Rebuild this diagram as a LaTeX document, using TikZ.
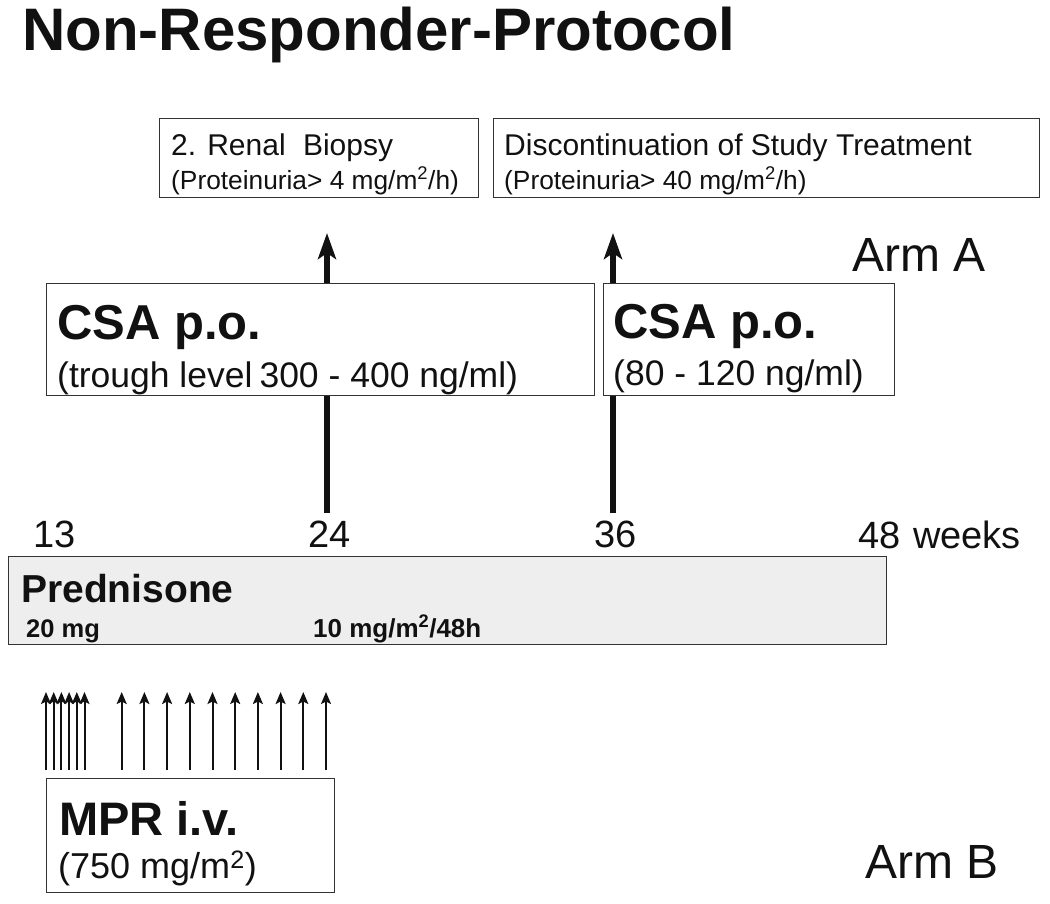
\documentclass[tikz,border=0pt]{standalone}
\usepackage{fontspec}
\setmainfont{Liberation Sans}
\usetikzlibrary{arrows.meta}
\definecolor{ink}{HTML}{111111}
\definecolor{boxgray}{HTML}{333333}
\definecolor{predfill}{HTML}{EEEEEE}
\newcommand\fsz[1]{\fontsize{#1}{#1}\selectfont}
\tikzset{
  box/.style={draw=boxgray, line width=1.4pt, fill=white, inner sep=0pt, anchor=north west},
  lbl/.style={anchor=base west, inner sep=0pt, text=ink},
  bigarrow/.style={draw=ink, line width=6pt, -{Stealth[length=26pt,width=18pt,inset=6pt]}},
  smallarrow/.style={draw=ink, line width=2pt, -{Stealth[length=12pt,width=10pt,inset=2.5pt]}},
}
\begin{document}
\begin{tikzpicture}[x=1pt,y=-1pt]
\useasboundingbox (0,0) rectangle (1050,903);
% title
\node[lbl, font=\fsz{60}\bfseries] (title) at (22,50) {Non-Responder-Protocol};
% top boxes
\node[box, minimum width=319pt, minimum height=79pt] (biopsy) at (159,118) {};
\node[lbl, font=\fsz{30}] (biopsyA) at (171,155) {2. Renal\hspace{0.3em} Biopsy};
\node[lbl, font=\fsz{26.3}] (biopsyB) at (171,189) {(Proteinuria> 4 mg/m\textsuperscript{2}/h)};
\node[box, minimum width=546pt, minimum height=79pt] (disc) at (493,118) {};
\node[lbl, font=\fsz{30}] (discA) at (504,155) {Discontinuation of Study Treatment};
\node[lbl, font=\fsz{26.3}] (discB) at (504,189) {(Proteinuria> 40 mg/m\textsuperscript{2}/h)};
% thick arrows
\coordinate (a24s) at (327,513);
\coordinate (a24e) at (327,233);
\coordinate (a36s) at (613,513);
\coordinate (a36e) at (613,233);
\draw[bigarrow] (a24s) -- (a24e);
\draw[bigarrow] (a36s) -- (a36e);
% arm A
\node[lbl, font=\fsz{48}] (armA) at (852,271) {Arm A};
% CSA boxes
\node[box, minimum width=548pt, minimum height=112pt] (csa1) at (46,283) {};
\node[lbl, font=\fsz{49}\bfseries] (csa1A) at (57,339) {CSA p.o.};
\node[lbl, font=\fsz{35.5}] (csa1B) at (57,387) {(trough level\hspace{-0.08em} 300 - 400 ng/ml)};
\node[box, minimum width=291pt, minimum height=112pt] (csa2) at (603,283) {};
\node[lbl, font=\fsz{49}\bfseries] (csa2A) at (613,338) {CSA p.o.};
\node[lbl, font=\fsz{35.5}] (csa2B) at (613,385) {(80 - 120 ng/ml)};
% week labels
\node[lbl, font=\fsz{38}] (w13) at (33,547) {13};
\node[lbl, font=\fsz{38}] (w24) at (308,547) {24};
\node[lbl, font=\fsz{38}] (w36) at (594,547) {36};
\node[lbl, font=\fsz{38}] (w48) at (858,548) {48\hspace{0.06em} weeks};
% prednisone
\node[box, fill=predfill, minimum width=878pt, minimum height=88pt] (pred) at (8,556) {};
\node[lbl, font=\fsz{39}\bfseries] (predA) at (21,602) {Prednisone};
\node[lbl, font=\fsz{25.5}\bfseries] (predB) at (26,637) {20 mg};
\node[lbl, font=\fsz{26}\bfseries] (predC) at (313,637) {10 mg/m\textsuperscript{2}/48h};
% small arrows
\foreach \x [count=\i] in {46,53.7,61.4,69.1,76.8,84.5,121.7,144.4,167.1,189.8,212.5,235.2,257.9,280.6,303.3,326}{
  \coordinate (ms\i) at (\x,770);
  \coordinate (me\i) at (\x,692);
  \draw[smallarrow] (ms\i) -- (me\i);
}
% MPR box
\node[box, minimum width=288pt, minimum height=114pt] (mpr) at (46,778) {};
\node[lbl, font=\fsz{47}\bfseries] (mprA) at (59,835) {MPR i.v.};
\node[lbl, font=\fsz{36}] (mprB) at (58,878) {(750 mg/m\textsuperscript{2})};
% arm B
\node[lbl, font=\fsz{48}] (armB) at (865,878) {Arm B};
\end{tikzpicture}
\end{document}
